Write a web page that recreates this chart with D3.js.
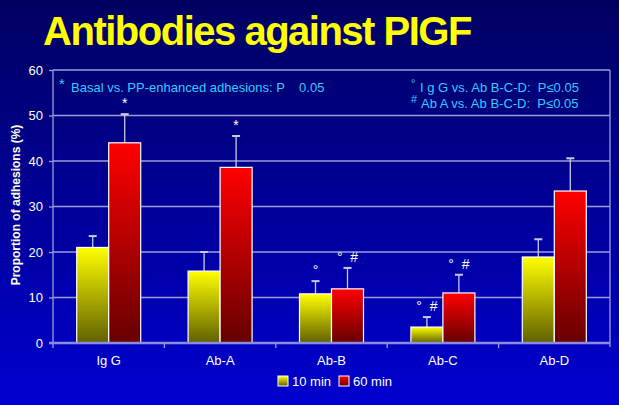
<!DOCTYPE html>
<html>
<head>
<meta charset="utf-8">
<script src="https://cdn.jsdelivr.net/npm/d3@7"></script>
<style>
  html, body { margin: 0; padding: 0; }
  body { width: 619px; height: 405px; overflow: hidden; font-family: "Liberation Sans", Arial, sans-serif; }
</style>
</head>
<body>
<svg id="chart" width="619" height="405"></svg>
<script>
// data
const categories = ['Ig G', 'Ab-A', 'Ab-B', 'Ab-C', 'Ab-D'];
const seriesNames = ['10 min', '60 min'];
const means10 = [21, 15.8, 10.8, 3.5, 18.9];
const errTop10 = [23.5, 20, 13.6, 5.7, 22.8];
const means60 = [44, 38.6, 11.9, 11, 33.4];
const errTop60 = [50.3, 45.5, 16.5, 15, 40.6];
const marks10 = ['', '', '°', '°  #', ''];
const marks60 = ['*', '*', '°  #', '°  #', ''];
const yTicks = [0, 10, 20, 30, 40, 50, 60];

const svg = d3.select('#chart');
const W = 619, H = 405;
const margin = { top: 70, right: 9, bottom: 62, left: 53 };

// background gradient
const defs = svg.append('defs');
const bg = defs.append('linearGradient').attr('id', 'bg')
  .attr('x1', 0).attr('y1', 0).attr('x2', 0).attr('y2', 1);
bg.append('stop').attr('offset', '0%').attr('stop-color', '#000060');
bg.append('stop').attr('offset', '100%').attr('stop-color', '#0000d0');

const yellowGrad = defs.append('linearGradient').attr('id', 'gYellow')
  .attr('x1', 0).attr('y1', 0).attr('x2', 0).attr('y2', 1);
yellowGrad.append('stop').attr('offset', '0%').attr('stop-color', '#ffff00');
yellowGrad.append('stop').attr('offset', '100%').attr('stop-color', '#606000');

const redGrad = defs.append('linearGradient').attr('id', 'gRed')
  .attr('x1', 0).attr('y1', 0).attr('x2', 0).attr('y2', 1);
redGrad.append('stop').attr('offset', '0%').attr('stop-color', '#ff0000');
redGrad.append('stop').attr('offset', '100%').attr('stop-color', '#660000');

svg.append('rect').attr('width', W).attr('height', H).attr('fill', 'url(#bg)');

// title
svg.append('text')
  .attr('x', 257).attr('y', 45)
  .attr('text-anchor', 'middle')
  .attr('fill', '#ffff00')
  .style('font-size', '40px')
  .style('font-weight', 'bold')
  .style('letter-spacing', '-1.5px')
  .text('Antibodies against PIGF');

// scales
const x0 = d3.scaleBand().domain(categories).range([margin.left, W - margin.right]);
const bw = x0.bandwidth();
const x1 = d3.scaleBand().domain(seriesNames).range([bw / 2 - 32, bw / 2 + 32]);
const y = d3.scaleLinear().domain([0, 60]).range([H - margin.bottom, margin.top]);

const gridColor = '#9c9cd8';

// gridlines
svg.append('g').selectAll('line')
  .data(yTicks.slice(1))
  .join('line')
  .attr('x1', margin.left).attr('x2', W - margin.right)
  .attr('y1', d => y(d)).attr('y2', d => y(d))
  .attr('stroke', gridColor).attr('stroke-width', 1.3);

// right border
svg.append('line')
  .attr('x1', W - margin.right).attr('x2', W - margin.right)
  .attr('y1', y(60)).attr('y2', y(0) + 4)
  .attr('stroke', gridColor).attr('stroke-width', 1.3);

// y axis
const yAxis = svg.append('g')
  .attr('transform', `translate(${margin.left},0)`)
  .call(d3.axisLeft(y).tickValues(yTicks).tickSize(4).tickPadding(6));
yAxis.select('.domain').attr('stroke', gridColor).attr('stroke-width', 1.3)
  .attr('d', `M0,${y(60)}V${y(0) + 5}`);
yAxis.selectAll('.tick line').attr('stroke', gridColor).attr('stroke-width', 1.3);
yAxis.selectAll('.tick text')
  .attr('fill', '#ffffe8')
  .style('font-size', '13px')
  .style('font-family', '"Liberation Sans", Arial, sans-serif');

// y label
svg.append('text')
  .attr('transform', `translate(20,${205}) rotate(-90)`)
  .attr('text-anchor', 'middle')
  .attr('fill', '#ffffe8')
  .style('font-size', '12px')
  .style('font-weight', 'bold')
  .text('Proportion of adhesions (%)');

// bars
const rows = categories.map((c, i) => ({
  cat: c,
  vals: [
    { s: seriesNames[0], v: means10[i], e: errTop10[i], m: marks10[i], fill: 'url(#gYellow)' },
    { s: seriesNames[1], v: means60[i], e: errTop60[i], m: marks60[i], fill: 'url(#gRed)' }
  ]
}));

const groups = svg.append('g').selectAll('g')
  .data(rows)
  .join('g')
  .attr('transform', d => `translate(${x0(d.cat)},0)`);

const items = groups.selectAll('g')
  .data(d => d.vals)
  .join('g');

// error bars (upper only)
items.append('line')
  .attr('x1', d => x1(d.s) + x1.bandwidth() / 2)
  .attr('x2', d => x1(d.s) + x1.bandwidth() / 2)
  .attr('y1', d => y(d.v)).attr('y2', d => y(d.e))
  .attr('stroke', '#c8c8e8').attr('stroke-width', 1.3);
items.append('line')
  .attr('x1', d => x1(d.s) + x1.bandwidth() / 2 - 4)
  .attr('x2', d => x1(d.s) + x1.bandwidth() / 2 + 4)
  .attr('y1', d => y(d.e)).attr('y2', d => y(d.e))
  .attr('stroke', '#c8c8e8').attr('stroke-width', 2);

items.append('rect')
  .attr('x', d => x1(d.s))
  .attr('width', x1.bandwidth())
  .attr('y', d => y(d.v))
  .attr('height', d => y(0) - y(d.v))
  .attr('fill', d => d.fill)
  .attr('stroke', '#ffffff').attr('stroke-width', 1.2);

// significance marks
items.append('text')
  .attr('x', d => x1(d.s) + x1.bandwidth() / 2)
  .attr('y', d => y(d.e) - 6)
  .attr('text-anchor', 'middle')
  .attr('fill', '#ffffff')
  .style('font-size', '14px')
  .style('white-space', 'pre')
  .text(d => d.m);

// x axis
const xAxis = svg.append('g')
  .attr('transform', `translate(0,${y(0)})`)
  .call(d3.axisBottom(x0).tickSize(0).tickPadding(13));
xAxis.select('.domain').remove();
xAxis.selectAll('.tick text')
  .attr('fill', '#ffffff')
  .style('font-size', '13px')
  .style('font-family', '"Liberation Sans", Arial, sans-serif');
svg.append('line')
  .attr('x1', margin.left - 4).attr('x2', W - margin.right)
  .attr('y1', y(0)).attr('y2', y(0))
  .attr('stroke', '#8c8cdc').attr('stroke-width', 2.5);
svg.append('g').selectAll('line')
  .data(categories.slice(1))
  .join('line')
  .attr('x1', d => x0(d)).attr('x2', d => x0(d))
  .attr('y1', y(0)).attr('y2', y(0) + 5)
  .attr('stroke', gridColor).attr('stroke-width', 1.3);

// legend
const legend = svg.append('g').attr('transform', 'translate(278,376)');
const legItems = legend.selectAll('g')
  .data(seriesNames)
  .join('g')
  .attr('transform', (d, i) => `translate(${i * 61},0)`);
legItems.append('rect')
  .attr('width', 10).attr('height', 10)
  .attr('fill', (d, i) => i === 0 ? 'url(#gYellow)' : 'url(#gRed)')
  .attr('stroke', '#ffffff').attr('stroke-width', 1);
legItems.append('text')
  .attr('x', 14).attr('y', 10)
  .attr('fill', '#ffffff')
  .style('font-size', '13px')
  .text(d => d);

// notes
const noteColor = '#33ccff';
svg.append('text').attr('x', 59).attr('y', 89).attr('fill', noteColor)
  .style('font-size', '15px').text('*');
svg.append('text').attr('x', 71).attr('y', 92).attr('fill', noteColor)
  .style('font-size', '13px').style('white-space', 'pre')
  .text('Basal vs. PP-enhanced adhesions: P    0.05');
svg.append('text').attr('x', 411).attr('y', 87).attr('fill', noteColor)
  .style('font-size', '11px').text('°');
svg.append('text').attr('x', 420).attr('y', 92).attr('fill', noteColor)
  .style('font-size', '13px').style('white-space', 'pre')
  .text('I g G vs. Ab B-C-D:  P≤0.05');
svg.append('text').attr('x', 411).attr('y', 103).attr('fill', noteColor)
  .style('font-size', '11px').text('#');
svg.append('text').attr('x', 421).attr('y', 108).attr('fill', noteColor)
  .style('font-size', '13px').style('white-space', 'pre')
  .text('Ab A vs. Ab B-C-D:  P≤0.05');
</script>
</body>
</html>
